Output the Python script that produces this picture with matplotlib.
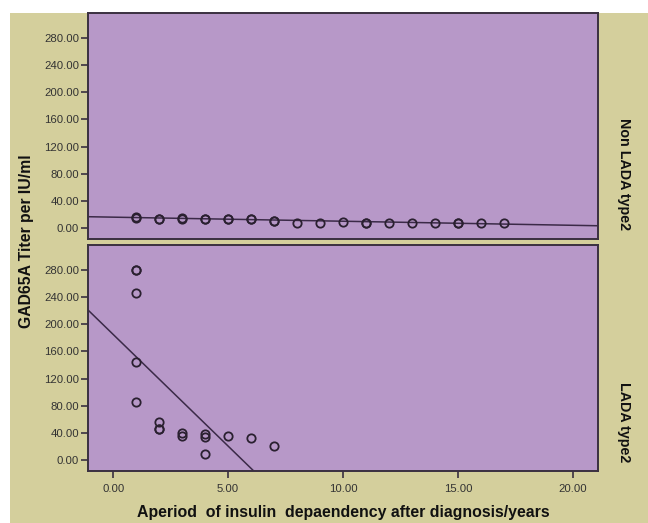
# GAD65A titer vs. period of insulin dependence, split by diabetes group
import numpy as np
import matplotlib.pyplot as plt
from matplotlib.patches import Rectangle

plt.rcParams['font.family'] = ['Liberation Sans', 'DejaVu Sans']

# Non LADA type2 group
years_non = [1, 1, 2, 2, 3, 3, 4, 4, 5, 5, 6, 6, 7, 7, 8, 9, 10, 11, 11, 12, 13, 14, 15, 15, 16, 17]
titer_non = [15, 16, 13, 14, 14, 15, 13, 13, 14, 13, 14, 13, 10, 11, 8, 8, 9, 8, 7, 8, 8, 8, 8, 7, 7, 7]

# LADA type2 group
years_lada = [1, 1, 1, 1, 1, 2, 2, 2, 3, 3, 4, 4, 4, 5, 6, 7]
titer_lada = [280, 280, 246, 145, 86, 56, 45, 45, 40, 36, 39, 34, 9, 35, 32, 20]

# linear fit lines (intercept, slope)
fit_non = (16.0, -0.6)
fit_lada = (185.0, -32.9)

panel_labels = ["Non LADA type2", "LADA type2"]
yticks = [0, 40, 80, 120, 160, 200, 240, 280]
xticks = [0, 5, 10, 15, 20]

bg = '#d4cf9c'
face = '#b798c8'
edge = '#3a3040'
tick_col = '#333333'

fig = plt.figure(figsize=(6.48, 5.23), dpi=100)
fig.patch.set_facecolor('white')
fig.patches.append(Rectangle((10/648, 0), 1, 1 - 13/523, transform=fig.transFigure,
                             facecolor=bg, edgecolor='none', zorder=-1))

ax_top = fig.add_axes([88/648, 1 - 239/523, 510/648, 226/523])
ax_bot = fig.add_axes([88/648, 1 - 471/523, 510/648, 226/523])

xs = np.array([-1.1, 21.1])
groups = [(ax_top, years_non, titer_non, fit_non), (ax_bot, years_lada, titer_lada, fit_lada)]
for i, (ax, xv, yv, fit) in enumerate(groups):
    ax.set_facecolor(face)
    ax.plot(xs, fit[0] + fit[1]*xs, c='#3b2a48', lw=1.1, zorder=2)
    ax.plot(xv, yv, 'o', mfc='none', mec='#2a2030', mew=1.3, ms=6, zorder=3)
    ax.set_xlim(-1.1, 21.1)
    ax.set_ylim(-16.2, 317)
    ax.set_yticks(yticks)
    ax.set_yticklabels(['%.2f' % v for v in yticks])
    ax.set_xticks(xticks)
    ax.set_xticklabels(['%.2f' % v for v in xticks])
    for s in ax.spines.values():
        s.set_color(edge)
        s.set_linewidth(1.4)
    ax.tick_params(axis='both', direction='out', length=5, width=1.2, color=edge,
                   labelsize=8.2, labelcolor=tick_col, pad=1.5)
    # group label in the right-hand strip, running down towards the panel bottom
    ax.text(1.05, 0.04, panel_labels[i], transform=ax.transAxes, rotation=-90,
            ha='center', va='bottom', fontsize=10.3, fontweight='bold', color='#111111')

ax_top.tick_params(axis='x', bottom=False, labelbottom=False)
ax_bot.tick_params(axis='x', pad=4)

fig.text(27/648, 1 - 241/523, "GAD65A Titer per IU/ml", rotation=90, ha='center', va='center',
         fontsize=11.3, fontweight='bold', color='#111111')
fig.text(343/648, 1 - 512/523, "Aperiod  of insulin  depaendency after diagnosis/years",
         ha='center', va='center', fontsize=11.4, fontweight='bold', color='#111111')

fig.savefig('out.png', dpi=100, facecolor=fig.get_facecolor())
